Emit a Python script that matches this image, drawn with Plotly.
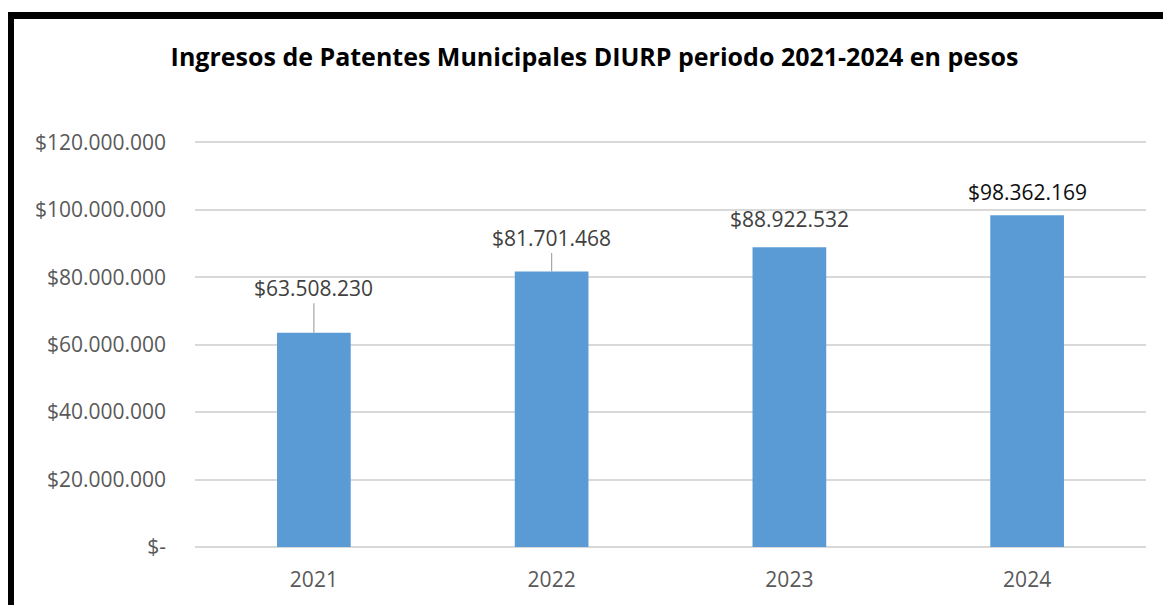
import plotly.graph_objects as go

years = ["2021", "2022", "2023", "2024"]
ingresos = [63508230, 81701468, 88922532, 98362169]
etiquetas = ["$63.508.230", "$81.701.468", "$88.922.532", "$98.362.169"]
tick_vals = [0, 20000000, 40000000, 60000000, 80000000, 100000000, 120000000]
tick_text = ["$-", "$20.000.000", "$40.000.000", "$60.000.000", "$80.000.000", "$100.000.000", "$120.000.000"]

# label styling (offsets in px, leader line colours, text colours)
label_offsets = [-45, -34, -28, -23]
leader_colors = ["#A6A6A6", "#A6A6A6", "rgba(0,0,0,0)", "rgba(0,0,0,0)"]
label_colors = ["#404040", "#404040", "#404040", "#0D0D0D"]

# page body has an 8px margin; figure is sized to fit the window
OFF = 8
W, H = 1171 - OFF, 605 - OFF
ml, mr, mt, mb = 195 - OFF, 25, 141 - OFF, 58
pw, ph = W - ml - mr, H - mt - mb
FONT = "Open Sans"

fig = go.Figure()
fig.add_trace(go.Bar(x=years, y=ingresos, marker=dict(color="#5B9BD5", line=dict(width=0)),
                     width=0.31, hoverinfo="skip"))

for i, (v, t, off, c, tc) in enumerate(zip(ingresos, etiquetas, label_offsets, leader_colors, label_colors)):
    fig.add_annotation(x=i, y=v, text=t, showarrow=True, arrowhead=0, arrowwidth=1.2,
                       arrowcolor=c, ax=0, ay=off, standoff=0,
                       font=dict(family=FONT, size=21, color=tc))

def px2x(px):
    return (px - OFF - ml) / pw

def py2y(py):
    return 1 - (py - OFF - mt) / ph

fig.add_shape(type="rect", xref="paper", yref="paper",
              x0=px2x(10.5), x1=px2x(1220), y0=py2y(660), y1=py2y(15.5),
              line=dict(color="black", width=7), fillcolor="rgba(0,0,0,0)", layer="above")

fig.update_layout(
    width=W, height=H,
    margin=dict(l=ml, r=mr, t=mt, b=mb, autoexpand=False),
    paper_bgcolor="white", plot_bgcolor="white",
    showlegend=False,
    title=dict(text="<b>Ingresos de Patentes Municipales DIURP periodo 2021-2024 en pesos</b>",
               x=(594.5 - OFF) / W, xanchor="center", xref="container",
               y=1 - (57 - OFF) / H, yanchor="middle", yref="container",
               font=dict(family=FONT, size=25, color="black")),
    xaxis=dict(type="category", range=[-0.5, 3.5], showgrid=False, showline=False, ticks="",
               ticklabelstandoff=18,
               tickfont=dict(family=FONT, size=21, color="#595959")),
    yaxis=dict(range=[0, 120400000], tickvals=tick_vals, ticktext=tick_text,
               showgrid=True, gridcolor="#D9D9D9", gridwidth=1.5,
               zeroline=True, zerolinecolor="#D9D9D9", zerolinewidth=1.5,
               showline=False, ticks="", ticklabelstandoff=28,
               tickfont=dict(family=FONT, size=21, color="#595959")),
    bargap=0.69,
)

fig.write_html("out.html")
